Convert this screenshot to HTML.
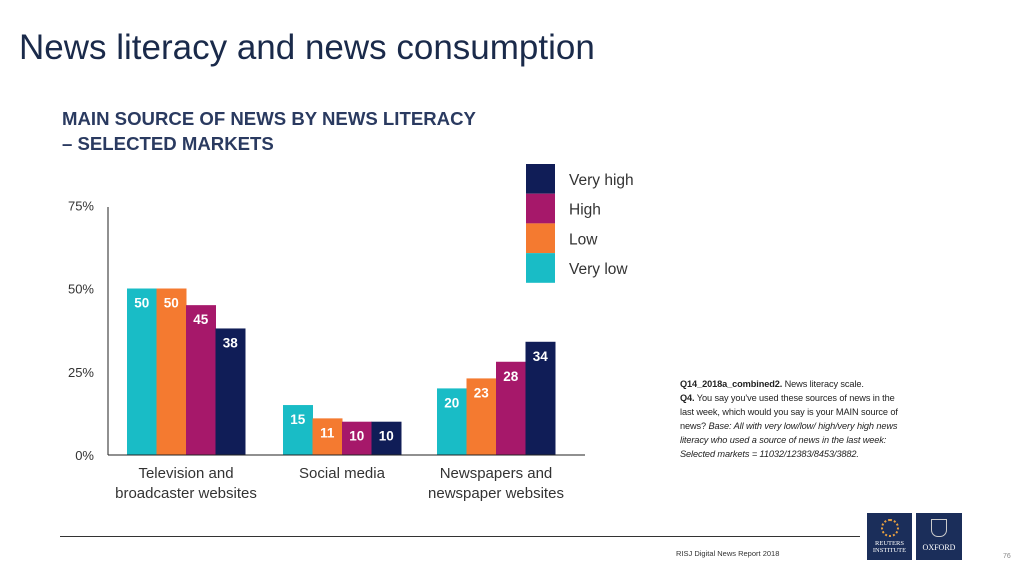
<!DOCTYPE html>
<html><head><meta charset="utf-8"><style>
body{margin:0;width:1024px;height:576px;background:#fff;overflow:hidden;font-family:"Liberation Sans",sans-serif;position:relative}
.abs{position:absolute}
</style></head><body>
<div class="abs" style="left:19px;top:28px;font-size:35px;color:#1a2a4a;">News literacy and news consumption</div>
<div class="abs" style="left:62px;top:106px;font-size:18.6px;font-weight:bold;color:#2a3a60;line-height:25px;">MAIN SOURCE OF NEWS BY NEWS LITERACY<br>– SELECTED MARKETS</div>
<svg class="abs" style="left:0;top:0" width="1024" height="576" id="chart"></svg>
<div class="abs" style="left:680px;top:377px;width:228px;font-size:9.2px;letter-spacing:-0.1px;line-height:14px;color:#222;"><b>Q14_2018a_combined2.</b> News literacy scale.<br><b>Q4.</b> You say you've used these sources of news in the last week, which would you say is your MAIN source of news? <i>Base: All with very low/low/ high/very high news literacy who used a source of news in the last week: Selected markets = 11032/12383/8453/3882.</i></div>
<div class="abs" style="left:60px;top:536px;width:800px;height:1px;background:#333"></div>
<div class="abs" style="left:676px;top:549px;font-size:7.5px;color:#333">RISJ Digital News Report 2018</div>
<div class="abs" style="left:867px;top:513px;width:45px;height:47px;background:#1b2e5a;color:#fff;font-family:'Liberation Serif',serif;font-size:6.5px;text-align:center;line-height:7px;"><div style="margin:6px auto 3px;width:14px;height:14px;border-radius:50%;border:2px dotted #e8a040"></div>REUTERS<br>INSTITUTE</div>
<div class="abs" style="left:916px;top:513px;width:46px;height:47px;background:#1b2e5a;color:#fff;font-family:'Liberation Serif',serif;font-size:8px;text-align:center;"><div style="margin:6px auto 6px;width:14px;height:16px;border:1px solid #ccc;border-radius:0 0 7px 7px"></div>OXFORD</div>
<div class="abs" style="left:1003px;top:553px;font-size:7px;color:#888">76</div>
<script>
const categories=[["Television and","broadcaster websites"],["Social media"],["Newspapers and","newspaper websites"]];
const seriesNames=["Very low","Low","High","Very high"];
const veryLow=[50,15,20];
const low=[50,11,23];
const high=[45,10,28];
const veryHigh=[38,10,34];
const yTicks=[0,25,50,75];
const series=[veryLow,low,high,veryHigh];
const colors=["#19bcc6","#f47a30","#a6186a","#101d57"];
const NS="http://www.w3.org/2000/svg";
const svg=document.getElementById('chart');
const y0=455,pxPer=3.33,axisX=108;
const y=v=>y0-v*pxPer;
const groupX=[127,283,437],bw=29.5;
function mk(t,a){const e=document.createElementNS(NS,t);for(const k in a)e.setAttribute(k,a[k]);svg.appendChild(e);return e;}
yTicks.forEach(t=>{const e=mk('text',{x:94,y:y(t)+5,'text-anchor':'end','font-size':13,fill:'#333','font-family':'Liberation Sans'});e.textContent=t+'%';

});
categories.forEach((c,gi)=>{
 series.forEach((s,si)=>{
  const x=groupX[gi]+si*bw,v=s[gi];
  const r=mk('rect',{x:x,y:y(v),width:bw+0.5,height:v*pxPer,fill:colors[si]});
  
  
  const t=mk('text',{x:x+bw/2,y:y(v)+19,'text-anchor':'middle','font-size':13.5,'font-weight':'bold',fill:'#fff','font-family':'Liberation Sans'});
  t.textContent=v;
  
  
 });
 const cx=groupX[gi]+2*bw;
 c.forEach((line,li)=>{const t=mk('text',{x:cx,y:478+li*20,'text-anchor':'middle','font-size':15,fill:'#333','font-family':'Liberation Sans'});t.textContent=line;
 
 });
});
const ax=mk('line',{x1:axisX,y1:207,x2:axisX,y2:y0,stroke:'#222','stroke-width':1});


const bx=mk('line',{x1:axisX,y1:y0,x2:585,y2:y0,stroke:'#222','stroke-width':1});


[3,2,1,0].forEach((si,i)=>{
 const r=mk('rect',{x:526,y:164+i*29.7,width:29,height:29.7,fill:colors[si]});
 
 
 const t=mk('text',{x:569,y:185+i*29.7,'font-size':15.5,fill:'#333','font-family':'Liberation Sans'});
 t.textContent=seriesNames[si];
 
 
});
</script>
</body></html>
